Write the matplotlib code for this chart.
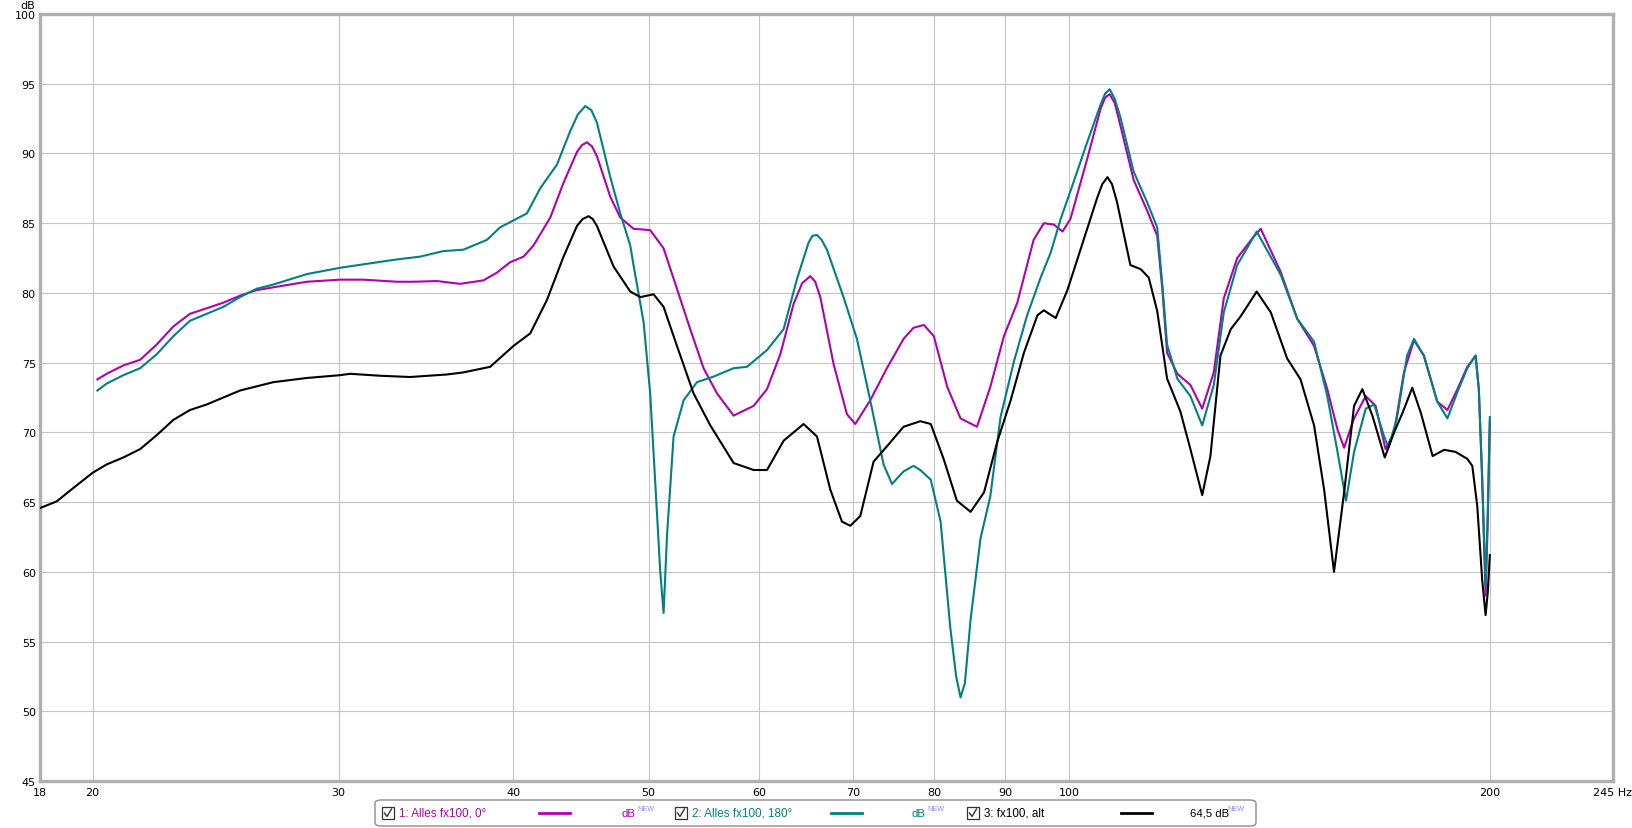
import matplotlib
matplotlib.use("Agg")
import matplotlib.pyplot as plt
from matplotlib.patches import FancyBboxPatch, Rectangle
from matplotlib.lines import Line2D

# 1: Alles fx100, 0°
f_0 = [20.16, 20.47, 21.04, 21.63, 22.23, 22.85, 23.48, 24.14, 24.81, 25.5, 26.21, 26.94, 28.47, 30.07,
       31.25, 33.02, 33.94, 35.27, 36.65, 38.09, 38.94, 39.8, 40.69, 41.36, 42.52, 43.46, 44.43, 44.8, 45.17,
       45.55, 45.92, 46.94, 47.72, 48.51, 48.77, 50.13, 51.25, 52.39, 53.55, 54.74, 55.96, 57.52, 59.45, 60.77,
       62.12, 63.49, 64.4, 65.27, 65.8, 66.35, 67.82, 69.33, 70.29, 72.04, 74.05, 76.11, 77.37, 78.7, 80.0, 81.8,
       83.6, 85.9, 87.8, 89.8, 91.8, 94.3, 95.9, 97.5, 98.9, 100.2, 103.0, 105.3, 106.1, 106.9, 107.8, 108.8,
       111.2, 113.7, 115.6, 116.6, 117.5, 119.5, 122.1, 124.5, 126.9, 129.0, 131.9, 135.2, 137.1, 141.7, 145.6,
       149.7, 153.0, 155.6, 157.3, 159.9, 163.0, 165.7, 168.4, 170.8, 173.6, 176.5, 179.4, 183.4, 186.5,
       189.6, 192.7, 195.4, 196.4, 197.5, 198.6, 199.3, 200.0]
db_0 = [73.8, 74.2, 74.8, 75.2, 76.3, 77.6, 78.5, 78.9, 79.3, 79.8, 80.2, 80.4, 80.8, 80.95,
        80.95, 80.8, 80.8, 80.85, 80.65, 80.9, 81.45, 82.2, 82.6, 83.4, 85.4, 87.9, 90.1, 90.6, 90.8,
        90.5, 89.8, 86.9, 85.4, 84.8, 84.6, 84.5, 83.2, 80.3, 77.4, 74.6, 72.8, 71.2, 71.9, 73.1,
        75.6, 79.2, 80.7, 81.2, 80.8, 79.7, 74.9, 71.3, 70.6, 72.3, 74.6, 76.7, 77.5, 77.7, 76.9, 73.25,
        71.0, 70.4, 73.25, 76.9, 79.3, 83.8, 85.0, 84.9, 84.4, 85.3, 89.6, 93.2, 94.0, 94.25, 93.6, 92.0,
        88.1, 85.9, 84.1, 80.2, 75.7, 74.2, 73.4, 71.7, 74.3, 79.6, 82.5, 83.9, 84.6, 81.5, 78.15,
        76.2, 73.1, 70.2, 68.9, 71.0, 72.6, 71.9, 68.8, 70.0, 74.3, 76.6, 75.5, 72.2, 71.6,
        73.1, 74.7, 75.5, 73.1, 66.6, 58.3, 63.5, 70.8]

# 2: Alles fx100, 180°
f_180 = [20.16, 20.47, 21.04, 21.63, 22.23, 22.85, 23.48, 24.14, 24.81, 25.5, 26.21, 26.94, 28.47, 30.07,
         31.25, 33.02, 34.31, 35.66, 36.85, 38.3, 39.15, 40.02, 40.91, 41.82, 42.99, 43.94, 44.5, 45.04, 45.5,
         45.92, 46.94, 47.72, 48.51, 48.77, 49.59, 50.13, 50.55, 50.97, 51.25, 51.54, 52.1, 52.97, 54.15, 55.65,
         57.52, 58.8, 60.77, 62.46, 63.85, 65.08, 65.5, 65.99, 66.5, 67.08, 68.94, 70.48, 72.04, 73.64, 74.67,
         76.11, 77.37, 78.24, 79.6, 80.9, 82.2, 83.0, 83.6, 84.2, 85.0, 86.4, 87.8, 89.3, 91.3, 93.3, 95.4, 97.0,
         98.6, 100.8, 103.0, 105.3, 106.1, 106.9, 107.8, 108.8, 111.2, 113.7, 115.6, 116.6, 117.5, 119.5, 122.1,
         124.5, 126.9, 129.0, 131.9, 136.2, 141.7, 145.6, 149.7, 153.0, 155.6, 157.8, 159.9, 163.0, 165.3, 167.9,
         169.2, 171.6, 174.5, 176.5, 179.4, 183.4, 186.5, 189.6, 192.7, 195.3, 196.4, 197.5, 198.6, 199.3, 200.0]
db_180 = [73.0, 73.5, 74.1, 74.6, 75.6, 76.9, 78.0, 78.5, 79.0, 79.7, 80.3, 80.6, 81.35, 81.8,
          82.05, 82.4, 82.6, 83.0, 83.1, 83.8, 84.7, 85.2, 85.7, 87.5, 89.2, 91.6, 92.8, 93.4, 93.1,
          92.2, 88.3, 85.7, 83.4, 82.0, 77.9, 72.8, 66.4, 60.0, 57.05, 62.6, 69.7, 72.3, 73.6, 74.0,
          74.6, 74.7, 75.9, 77.4, 81.0, 83.6, 84.1, 84.15, 83.8, 83.1, 79.7, 76.7, 72.3, 67.7, 66.3,
          67.2, 67.6, 67.3, 66.6, 63.6, 56.0, 52.5, 51.0, 52.0, 56.6, 62.4, 65.4, 71.1, 75.1, 78.4, 81.1, 82.9,
          85.3, 88.05, 90.8, 93.5, 94.3, 94.6, 93.9, 92.6, 88.7, 86.5, 84.7, 80.5, 76.3, 73.85, 72.6,
          70.5, 73.4, 78.6, 82.0, 84.4, 81.3, 78.15, 76.5, 72.6, 68.6, 65.1, 68.6, 71.7, 72.0, 69.8,
          68.9, 71.0, 75.5, 76.7, 75.5, 72.2, 71.0, 72.9, 74.6, 75.5, 73.1, 66.6, 59.0, 64.2, 71.1]

# 3: fx100, alt
f_alt = [18.34, 18.85, 19.37, 20.0, 20.47, 21.04, 21.63, 22.23, 22.85, 23.48, 24.14, 24.81, 25.5, 26.21,
         26.94, 28.47, 30.07, 30.57, 32.12, 33.75, 35.86, 36.85, 38.51, 40.02, 41.14, 42.29, 43.46, 44.43, 44.85,
         45.29, 45.6, 45.92, 47.19, 48.51, 49.32, 50.41, 51.25, 52.39, 53.84, 55.35, 57.52, 59.45, 60.77, 62.46,
         64.55, 65.99, 67.45, 68.76, 69.71, 70.87, 72.44, 74.05, 76.11, 78.24, 79.6, 81.3, 83.1, 85.0,
         86.9, 88.8, 90.8, 92.8, 94.9, 95.9, 97.8, 99.7, 102.4, 104.7, 105.6, 106.5, 107.3, 108.2, 110.6, 112.5,
         114.0, 115.6, 117.5, 120.1, 122.1, 124.5, 126.2, 128.3, 130.5, 132.6, 136.2, 139.4, 143.2, 146.4,
         149.7, 152.2, 154.7, 157.3, 159.9, 162.1, 164.8, 168.2, 170.8, 173.2, 176.0, 178.5, 182.0, 185.5,
         189.0, 192.7, 194.3, 195.9, 197.5, 198.6, 199.3, 200.0]
db_alt = [64.57, 65.05, 66.0, 67.1, 67.7, 68.2, 68.8, 69.8, 70.9, 71.6, 72.0, 72.5, 73.0, 73.3,
          73.6, 73.9, 74.1, 74.2, 74.06, 73.97, 74.15, 74.3, 74.7, 76.2, 77.1, 79.5, 82.6, 84.8, 85.3,
          85.5, 85.3, 84.8, 81.9, 80.1, 79.7, 79.9, 79.0, 76.2, 72.8, 70.5, 67.8, 67.3, 67.3, 69.4,
          70.6, 69.7, 65.9, 63.6, 63.3, 64.0, 67.9, 69.0, 70.4, 70.8, 70.6, 68.1, 65.1, 64.3,
          65.7, 69.3, 72.3, 75.7, 78.4, 78.75, 78.2, 80.2, 83.8, 86.8, 87.8, 88.3, 87.8, 86.5, 82.0, 81.7,
          81.1, 78.7, 73.85, 71.5, 68.8, 65.5, 68.3, 75.5, 77.4, 78.3, 80.1, 78.6, 75.3, 73.8,
          70.5, 65.9, 60.0, 65.7, 71.9, 73.1, 71.2, 68.2, 70.0, 71.4, 73.2, 71.4, 68.3, 68.75,
          68.6, 68.1, 67.6, 64.7, 59.4, 56.9, 58.5, 61.2]

x_ticks = [18.34, 20, 30, 40, 50, 60, 70, 80, 90, 100, 200, 245]
x_labels = ["18", "20", "30", "40", "50", "60", "70", "80", "90", "100", "200", "245 Hz"]
y_ticks = [45, 50, 55, 60, 65, 70, 75, 80, 85, 90, 95, 100]

c_0 = "#b000b0"
c_180 = "#008080"
c_alt = "#000000"

W, H = 1632, 829
fig = plt.figure(figsize=(W / 100, H / 100), dpi=100)
ax = fig.add_axes([40 / W, 1 - 782 / H, 1573 / W, 767 / H])

ax.plot(f_0, db_0, color=c_0, lw=1.5, zorder=3, solid_joinstyle="round")
ax.plot(f_180, db_180, color=c_180, lw=1.5, zorder=4, solid_joinstyle="round")
ax.plot(f_alt, db_alt, color=c_alt, lw=1.5, zorder=5, solid_joinstyle="round")

ax.set_xscale("log")
ax.set_xlim(18.34, 245)
ax.set_ylim(45, 100)
ax.set_xticks(x_ticks)
ax.set_xticklabels(x_labels)
ax.xaxis.set_minor_locator(matplotlib.ticker.NullLocator())
ax.set_yticks(y_ticks)
ax.set_yticklabels([str(v) for v in y_ticks])
ax.tick_params(length=0, labelsize=8, pad=4)
ax.tick_params(axis="y", pad=3)
ax.grid(True, color="#c4c4c4", lw=0.8)
for s in ax.spines.values():
    s.set_color("#b0b0b0")
    s.set_linewidth(2.4)
ax.set_axisbelow(True)
fig.text(28 / W, 1 - 6 / H, "dB", fontsize=8, ha="center", va="center")

# legend panel along the bottom
def fx(px):
    return px / W

def fy(py):
    return 1 - py / H

fig.patches.append(FancyBboxPatch((fx(375), fy(827)), fx(1256) - fx(375), fy(801) - fy(827),
                                  boxstyle="round,pad=0,rounding_size=0.004",
                                  transform=fig.transFigure, fc="white", ec="#8c8c8c", lw=1))
yc = 814
items = [
    (382, "1: Alles fx100, 0°", c_0, 539, 621, "dB", 637),
    (675, "2: Alles fx100, 180°", c_180, 831, 911, "dB", 927),
    (967, "3: fx100, alt", c_alt, 1121, 1190, "64,5 dB", 1227),
]
for cb, label, col, lx, dx, dtxt, nx in items:
    fig.patches.append(Rectangle((fx(cb), fy(yc + 6)), fx(cb + 12) - fx(cb), fy(yc - 6) - fy(yc + 6),
                                 transform=fig.transFigure, fc="white", ec="#333333", lw=0.9))
    fig.lines.append(Line2D([fx(cb + 2.5), fx(cb + 5), fx(cb + 9.5)], [fy(yc), fy(yc + 3.5), fy(yc - 4)],
                            transform=fig.transFigure, color="#333333", lw=1))
    fig.text(fx(cb + 17), fy(yc), label, color=col, fontsize=8.4, ha="left", va="center",
             family="Liberation Sans")
    fig.lines.append(Line2D([fx(lx), fx(lx + 31)], [fy(yc), fy(yc)], transform=fig.transFigure,
                            color=col, lw=2))
    fig.text(fx(dx), fy(yc), dtxt, color=col, fontsize=8.2, ha="left", va="center",
             family="Liberation Sans")
    fig.text(fx(nx), fy(yc - 4), "NEW", color="#8a8ae6", fontsize=5.2, ha="left",
             va="center", family="Liberation Sans")

fig.savefig("out.png", dpi=100)
